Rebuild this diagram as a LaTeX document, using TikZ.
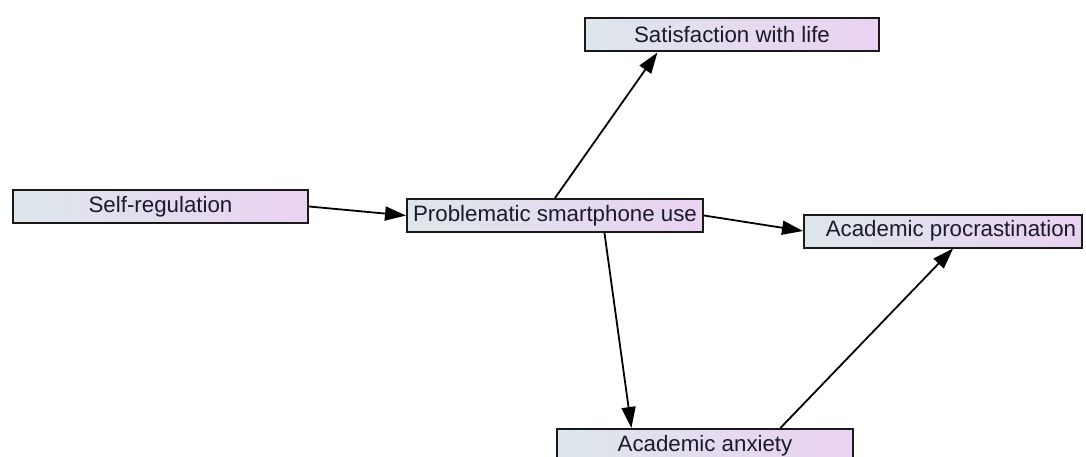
\documentclass[tikz,border=0pt]{standalone}
\usepackage{fontspec}
\setmainfont{Liberation Sans}
\usetikzlibrary{arrows.meta,calc}
\definecolor{boxleft}{HTML}{DDE6EA}
\definecolor{boxright}{HTML}{EAD2F2}
\definecolor{boxtext}{HTML}{1A1A2A}
\begin{document}
\begin{tikzpicture}[x=1pt,y=-1pt,
  varbox/.style={draw=black!90, line width=2pt, left color=boxleft, right color=boxright,
    shading angle=90, minimum height=33pt, inner sep=0pt, text=boxtext,
    font=\fontsize{22.3}{24}\selectfont},
  path/.style={draw=black, line width=1.8pt,
    -{Triangle[length=21pt,width=14pt]}}
]
\useasboundingbox (0,0) rectangle (1086,457);

\node[varbox, minimum width=295pt] (self) at (160.5,206.5) {Self-regulation};
\node[varbox, minimum width=294pt] (sat)  at (732,35)      {Satisfaction with life};
\node[varbox, minimum width=296pt] (psu)  at (555,215.5)   {Problematic smartphone use};
\node[varbox, minimum width=278pt] (proc) at (943,231)     {\hspace*{16pt}Academic procrastination};
\node[varbox, minimum width=296pt] (anx)  at (705,445.5)   {Academic anxiety};

\draw[path] (self.east) -- (psu.west);
\draw[path] (psu.north) -- ($(sat.south west)!0.248!(sat.south east)$);
\draw[path] (psu.east) -- (proc.west);
\draw[path] ($(psu.south west)!0.666!(psu.south east)$) -- ($(anx.north west)!0.253!(anx.north east)$);
\draw[path] ($(anx.north west)!0.753!(anx.north east)$) -- ($(proc.south west)!0.536!(proc.south east)$);
\end{tikzpicture}
\end{document}
